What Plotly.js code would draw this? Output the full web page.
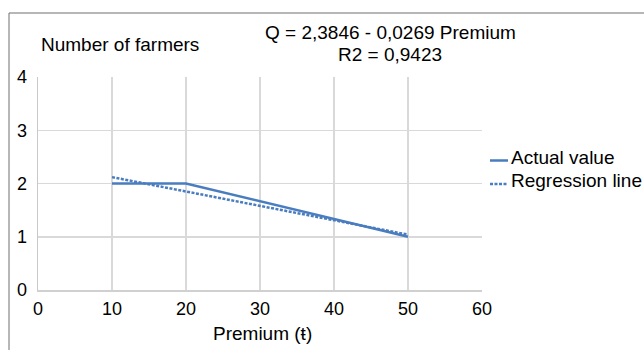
<!DOCTYPE html>
<html><head><meta charset="utf-8">
<script src="https://cdn.plot.ly/plotly-3.0.1.min.js"></script>
<style>html,body{margin:0;padding:0;background:#fff}#c{width:644px;height:350px}</style>
</head><body><div id="c"></div>
<script>
const premium = [10, 20, 50];
const actual = [2, 2, 1];
const regPremium = [10, 20, 50];
const regValues = [2.12, 1.85, 1.04];
const xTicks = [0, 10, 20, 30, 40, 50, 60];
const yTicks = [0, 1, 2, 3, 4];
const seriesNames = ["Actual value", "Regression line"];
const yLabel = "Number of farmers";
const xLabel = "Premium (ŧ)";
const equationLines = ["Q = 2,3846 - 0,0269 Premium", "R2 = 0,9423"];

const blue = "#4a7dbf";
const fam = "Liberation Sans, Arial, sans-serif";
const font = {family: fam, size: 19, color: "#000"};
const tickFont = {family: fam, size: 18, color: "#000"};

const L = 38, R = 482, T = 77, B = 290, W = 644, H = 350;
const px = x => (x - L) / (R - L);
const py = y => (B - y) / (B - T);

const traces = [
  {x: premium, y: actual, name: seriesNames[0], mode: "lines", line: {color: blue, width: 2.5}, showlegend: false},
  {x: regPremium, y: regValues, name: seriesNames[1], mode: "lines", line: {color: blue, width: 2.5, dash: "3px,1.5px"}, showlegend: false}
];

const legendTextY = [157, 180];
const legendLineY = [160.5, 184];
const shapes = [
  {type: "line", xref: "paper", yref: "paper", x0: px(9), x1: px(9), y0: py(H + 2), y1: py(13), line: {color: "#6e6e6e", width: 1}},
  {type: "line", xref: "paper", yref: "paper", x0: px(9), x1: px(W + 2), y0: py(13), y1: py(13), line: {color: "#6e6e6e", width: 1}},
  {type: "line", xref: "paper", yref: "paper", x0: px(490), x1: px(508), y0: py(legendLineY[0]), y1: py(legendLineY[0]), line: {color: blue, width: 2.5}},
  {type: "line", xref: "paper", yref: "paper", x0: px(490), x1: px(508), y0: py(legendLineY[1]), y1: py(legendLineY[1]), line: {color: blue, width: 2.5, dash: "3px,1.5px"}}
];

const ann = (text, x, y, xanchor, f) => ({text: text, xref: "paper", yref: "paper", x: px(x), y: py(y), xanchor: xanchor, yanchor: "middle", showarrow: false, font: f || font});
const annotations = [
  ann(yLabel, 39, 44, "left"),
  ann(equationLines[0], 390, 32, "center"),
  ann(equationLines[1], 390, 54, "center"),
  ann(seriesNames[0], 509, legendTextY[0], "left"),
  ann(seriesNames[1], 509, legendTextY[1], "left"),
  ann(xLabel, 262, 333, "center")
];

const layout = {
  width: W, height: H,
  margin: {l: L, r: W - R, t: T, b: H - B, pad: 0},
  paper_bgcolor: "#fff", plot_bgcolor: "#fff",
  font: font,
  showlegend: false,
  xaxis: {range: [0, 60], tickvals: xTicks, ticktext: xTicks.map(String), showgrid: true, gridcolor: "#d9d9d9", gridwidth: 1.5,
          zeroline: false, showline: true, linecolor: "#d0d0d0", linewidth: 1.5, ticks: "", ticklabelstandoff: 2,
          tickfont: tickFont, fixedrange: true},
  yaxis: {range: [0, 4], tickvals: yTicks, ticktext: yTicks.map(String), showgrid: true, gridcolor: "#d9d9d9", gridwidth: 1.5,
          zeroline: false, showline: true, linecolor: "#c8c8c8", linewidth: 1.5, ticks: "", ticklabelstandoff: 6, tickfont: tickFont, fixedrange: true},
  shapes: shapes,
  annotations: annotations
};

Plotly.newPlot("c", traces, layout, {displayModeBar: false, staticPlot: true});
</script>
</body></html>
